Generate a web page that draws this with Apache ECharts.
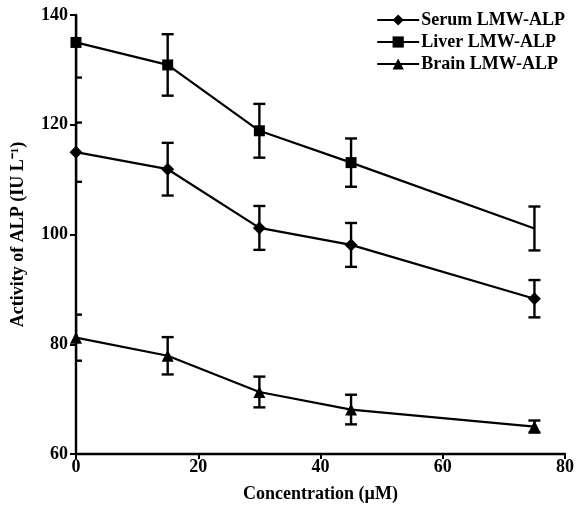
<!DOCTYPE html>
<html>
<head>
<meta charset="utf-8">
<script src="https://cdn.jsdelivr.net/npm/echarts@6/dist/echarts.min.js"></script>
<style>
    html, body { margin: 0; padding: 0; background: #fff; }
    #myChart { width: 577px; height: 510px; }
</style>
</head>
<body>
<div id="myChart"></div>
<script>
    // concentrations (µM)
    var conc = [0, 15, 30, 45, 75];

    var serum = [115, 111.9, 101.2, 98.1, 88.3];
    var serumErr = [5.4, 4.8, 4.0, 4.0, 3.4];

    var liver = [135, 130.9, 118.9, 113.1, 101.1];
    var liverErr = [6.4, 5.6, 4.9, 4.4, 4.0];

    var brain = [81.2, 77.9, 71.3, 68.1, 65.0];
    var brainErr = [4.2, 3.4, 2.8, 2.7, 1.1];

    var yTicks = [60, 80, 100, 120, 140];
    var xTicks = [0, 20, 40, 60, 80];

    var font = 'Liberation Serif';

    function pts(vals, hideLast) {
        var out = [];
        for (var i = 0; i < conc.length; i++) {
            var p = { value: [conc[i], vals[i]] };
            if (hideLast && i == conc.length - 1) p.symbol = 'none';
            out.push(p);
        }
        return out;
    }

    function errData(vals, errs) {
        var out = [];
        for (var i = 0; i < conc.length; i++) {
            out.push([conc[i], vals[i] - errs[i], vals[i] + errs[i]]);
        }
        return out;
    }

    function renderErr(params, api) {
        var lo = api.coord([api.value(0), api.value(1)]);
        var hi = api.coord([api.value(0), api.value(2)]);
        var w = 6;
        var st = { stroke: '#000', lineWidth: 2.4 };
        return {
            type: 'group',
            children: [
                { type: 'line', shape: { x1: lo[0], y1: lo[1], x2: hi[0], y2: hi[1] }, style: st },
                { type: 'line', shape: { x1: lo[0] - w, y1: lo[1], x2: lo[0] + w, y2: lo[1] }, style: st },
                { type: 'line', shape: { x1: hi[0] - w, y1: hi[1], x2: hi[0] + w, y2: hi[1] }, style: st }
            ]
        };
    }

    function lineSeries(name, vals, symbol, size, hideLast) {
        return {
            name: name,
            type: 'line',
            data: pts(vals, hideLast),
            symbol: symbol,
            symbolSize: size,
            showAllSymbol: true,
            lineStyle: { color: '#000', width: 2.2 },
            itemStyle: { color: '#000' },
            z: 3
        };
    }

    function errSeries(vals, errs) {
        return {
            type: 'custom',
            data: errData(vals, errs),
            renderItem: renderErr,
            encode: { x: 0, y: [1, 2] },
            clip: true,
            silent: true,
            z: 2
        };
    }

    var myChart = echarts.init(document.getElementById('myChart'));
    myChart.setOption({
        backgroundColor: '#fff',
        animation: false,
        grid: { left: 76, right: 11, top: 15, bottom: 56 },
        legend: {
            orient: 'vertical',
            right: 7,
            top: 6,
            itemWidth: 42,
            itemHeight: 14,
            itemGap: 4,
            textStyle: { fontFamily: font, fontSize: 18, fontWeight: 'bold', color: '#000', padding: [0, 0, 0, -3] },
            data: ['Serum LMW-ALP', 'Liver LMW-ALP', 'Brain LMW-ALP']
        },
        xAxis: {
            type: 'value',
            min: 0,
            max: 80,
            interval: 20,
            name: 'Concentration (\u00b5M)',
            nameLocation: 'middle',
            nameGap: 31,
            nameTextStyle: { fontFamily: font, fontSize: 18, fontWeight: 'bold', color: '#000' },
            axisLine: { lineStyle: { color: '#000', width: 2.4 } },
            axisTick: { length: 5, lineStyle: { color: '#000', width: 2 } },
            axisLabel: {
                fontFamily: font, fontSize: 18, fontWeight: 'bold', color: '#000', margin: 4,
                formatter: function (v) { return xTicks.indexOf(v) >= 0 ? v : ''; }
            },
            splitLine: { show: false }
        },
        yAxis: {
            type: 'value',
            min: 60,
            max: 140,
            interval: 20,
            name: 'Activity of ALP (IU L\u207b\u00b9)',
            nameLocation: 'middle',
            nameGap: 49,
            nameTextStyle: { fontFamily: font, fontSize: 18, fontWeight: 'bold', color: '#000' },
            axisLine: { lineStyle: { color: '#000', width: 2.4 } },
            axisTick: { length: 6, lineStyle: { color: '#000', width: 2 } },
            axisLabel: {
                fontFamily: font, fontSize: 18, fontWeight: 'bold', color: '#000', margin: 8,
                formatter: function (v) { return yTicks.indexOf(v) >= 0 ? v : ''; }
            },
            splitLine: { show: false }
        },
        series: [
            lineSeries('Serum LMW-ALP', serum, 'diamond', 13, false),
            lineSeries('Liver LMW-ALP', liver, 'rect', 11, true),
            lineSeries('Brain LMW-ALP', brain, 'triangle', 12, false),
            errSeries(serum, serumErr),
            errSeries(liver, liverErr),
            errSeries(brain, brainErr)
        ]
    });
</script>
</body>
</html>
